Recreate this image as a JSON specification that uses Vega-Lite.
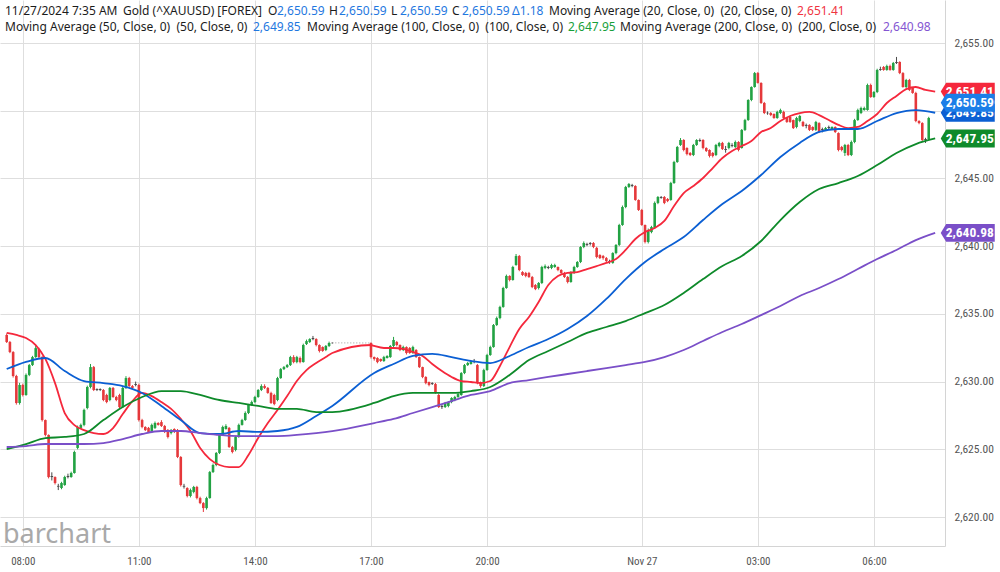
{
"$schema":"https://vega.github.io/schema/vega-lite/v6.json",
"width":945,"height":546,
"autosize":{"type":"none"},
"padding":{"left":0,"top":0,"right":55,"bottom":26},
"background":"white",
"config":{"view":{"stroke":null},"font":"Noto Sans","text":{"align":"left","baseline":"alphabetic","fontSize":12,"font":"Noto Sans","color":"#1c1c1c"},
 "axis":{"gridColor":"#dedede","gridWidth":1,"ticks":false,"domainColor":"#d4d4d4","labelColor":"#555555","labelFont":"Liberation Sans Narrow, Roboto Condensed, Roboto","title":null}},
"datasets":{
"candles":[
{"t":"2024-11-26T07:35","o":2633.44,"h":2633.55,"l":2632.85,"c":2632.92},
{"t":"2024-11-26T07:40","o":2632.92,"h":2633.0,"l":2632.1,"c":2632.18},
{"t":"2024-11-26T07:45","o":2632.18,"h":2632.25,"l":2630.3,"c":2630.41},
{"t":"2024-11-26T07:50","o":2630.41,"h":2630.5,"l":2628.3,"c":2628.42},
{"t":"2024-11-26T07:55","o":2628.42,"h":2629.9,"l":2628.3,"c":2629.75},
{"t":"2024-11-26T08:00","o":2629.75,"h":2629.85,"l":2628.9,"c":2629.01},
{"t":"2024-11-26T08:05","o":2629.01,"h":2630.6,"l":2628.95,"c":2630.49},
{"t":"2024-11-26T08:10","o":2630.49,"h":2631.3,"l":2630.4,"c":2631.22},
{"t":"2024-11-26T08:15","o":2631.22,"h":2631.9,"l":2631.15,"c":2631.81},
{"t":"2024-11-26T08:20","o":2631.81,"h":2632.7,"l":2631.75,"c":2632.47},
{"t":"2024-11-26T08:25","o":2632.40,"h":2632.5,"l":2631.7,"c":2631.81},
{"t":"2024-11-26T08:30","o":2631.81,"h":2631.9,"l":2627.05,"c":2627.16},
{"t":"2024-11-26T08:35","o":2627.16,"h":2627.2,"l":2625.95,"c":2626.06},
{"t":"2024-11-26T08:40","o":2626.06,"h":2626.1,"l":2622.85,"c":2622.95},
{"t":"2024-11-26T08:45","o":2622.95,"h":2623.3,"l":2622.7,"c":2623.03},
{"t":"2024-11-26T08:50","o":2622.95,"h":2623.0,"l":2622.4,"c":2622.51},
{"t":"2024-11-26T08:55","o":2622.30,"h":2622.45,"l":2621.99,"c":2622.24},
{"t":"2024-11-26T09:00","o":2622.14,"h":2622.6,"l":2622.05,"c":2622.51},
{"t":"2024-11-26T09:05","o":2622.36,"h":2623.05,"l":2622.3,"c":2622.95},
{"t":"2024-11-26T09:10","o":2622.95,"h":2623.2,"l":2622.85,"c":2623.03},
{"t":"2024-11-26T09:15","o":2622.95,"h":2623.35,"l":2622.9,"c":2623.25},
{"t":"2024-11-26T09:20","o":2623.25,"h":2624.9,"l":2623.2,"c":2624.80},
{"t":"2024-11-26T09:25","o":2625.10,"h":2626.75,"l":2625.0,"c":2626.65},
{"t":"2024-11-26T09:30","o":2626.58,"h":2626.9,"l":2626.5,"c":2626.80},
{"t":"2024-11-26T09:35","o":2626.80,"h":2628.0,"l":2626.7,"c":2627.91},
{"t":"2024-11-26T09:40","o":2628.05,"h":2629.7,"l":2627.95,"c":2629.60},
{"t":"2024-11-26T09:45","o":2629.60,"h":2631.3,"l":2629.5,"c":2631.07},
{"t":"2024-11-26T09:50","o":2631.07,"h":2631.15,"l":2629.3,"c":2629.38},
{"t":"2024-11-26T09:55","o":2629.38,"h":2629.5,"l":2629.3,"c":2629.45},
{"t":"2024-11-26T10:00","o":2629.45,"h":2629.5,"l":2629.3,"c":2629.38},
{"t":"2024-11-26T10:05","o":2629.38,"h":2629.45,"l":2628.55,"c":2628.64},
{"t":"2024-11-26T10:10","o":2629.01,"h":2629.1,"l":2628.4,"c":2628.49},
{"t":"2024-11-26T10:15","o":2628.64,"h":2629.6,"l":2628.55,"c":2629.53},
{"t":"2024-11-26T10:20","o":2629.53,"h":2629.6,"l":2628.8,"c":2628.86},
{"t":"2024-11-26T10:25","o":2628.86,"h":2628.95,"l":2628.55,"c":2628.64},
{"t":"2024-11-26T10:30","o":2629.01,"h":2629.1,"l":2628.0,"c":2628.12},
{"t":"2024-11-26T10:35","o":2628.12,"h":2629.6,"l":2628.05,"c":2629.53},
{"t":"2024-11-26T10:40","o":2629.53,"h":2630.4,"l":2629.45,"c":2630.26},
{"t":"2024-11-26T10:45","o":2630.26,"h":2630.35,"l":2629.6,"c":2629.67},
{"t":"2024-11-26T10:50","o":2629.67,"h":2629.75,"l":2629.45,"c":2629.53},
{"t":"2024-11-26T10:55","o":2629.82,"h":2630.0,"l":2629.65,"c":2629.75},
{"t":"2024-11-26T11:00","o":2629.75,"h":2629.85,"l":2627.05,"c":2627.16},
{"t":"2024-11-26T11:05","o":2627.16,"h":2627.25,"l":2626.55,"c":2626.65},
{"t":"2024-11-26T11:10","o":2626.65,"h":2626.7,"l":2626.35,"c":2626.42},
{"t":"2024-11-26T11:15","o":2626.58,"h":2626.65,"l":2626.2,"c":2626.28},
{"t":"2024-11-26T11:20","o":2626.28,"h":2626.9,"l":2626.2,"c":2626.80},
{"t":"2024-11-26T11:25","o":2626.58,"h":2627.05,"l":2626.5,"c":2626.94},
{"t":"2024-11-26T11:30","o":2626.94,"h":2627.0,"l":2626.75,"c":2626.80},
{"t":"2024-11-26T11:35","o":2627.01,"h":2627.15,"l":2626.65,"c":2626.72},
{"t":"2024-11-26T11:40","o":2626.72,"h":2626.8,"l":2626.2,"c":2626.28},
{"t":"2024-11-26T11:45","o":2626.42,"h":2626.5,"l":2625.8,"c":2625.91},
{"t":"2024-11-26T11:50","o":2626.20,"h":2626.5,"l":2626.1,"c":2626.42},
{"t":"2024-11-26T11:55","o":2626.50,"h":2626.55,"l":2626.2,"c":2626.28},
{"t":"2024-11-26T12:00","o":2626.42,"h":2626.5,"l":2624.35,"c":2624.43},
{"t":"2024-11-26T12:05","o":2624.43,"h":2624.5,"l":2622.25,"c":2622.36},
{"t":"2024-11-26T12:10","o":2622.30,"h":2622.45,"l":2622.1,"c":2622.24},
{"t":"2024-11-26T12:15","o":2622.14,"h":2622.2,"l":2621.45,"c":2621.55},
{"t":"2024-11-26T12:20","o":2621.55,"h":2622.1,"l":2621.45,"c":2621.99},
{"t":"2024-11-26T12:25","o":2621.85,"h":2622.3,"l":2621.75,"c":2622.22},
{"t":"2024-11-26T12:30","o":2622.22,"h":2622.3,"l":2621.3,"c":2621.40},
{"t":"2024-11-26T12:35","o":2621.40,"h":2621.5,"l":2620.95,"c":2621.03},
{"t":"2024-11-26T12:40","o":2621.03,"h":2621.1,"l":2620.37,"c":2620.66},
{"t":"2024-11-26T12:45","o":2620.66,"h":2621.5,"l":2620.55,"c":2621.40},
{"t":"2024-11-26T12:50","o":2621.40,"h":2623.4,"l":2621.35,"c":2623.32},
{"t":"2024-11-26T12:55","o":2623.32,"h":2623.95,"l":2623.25,"c":2623.84},
{"t":"2024-11-26T13:00","o":2623.84,"h":2624.8,"l":2623.75,"c":2624.73},
{"t":"2024-11-26T13:05","o":2624.73,"h":2626.15,"l":2624.65,"c":2626.06},
{"t":"2024-11-26T13:10","o":2626.06,"h":2626.75,"l":2626.0,"c":2626.65},
{"t":"2024-11-26T13:15","o":2626.50,"h":2626.85,"l":2626.45,"c":2626.72},
{"t":"2024-11-26T13:20","o":2626.58,"h":2626.65,"l":2625.1,"c":2625.17},
{"t":"2024-11-26T13:25","o":2625.17,"h":2625.25,"l":2624.7,"c":2624.80},
{"t":"2024-11-26T13:30","o":2624.95,"h":2626.0,"l":2624.85,"c":2625.91},
{"t":"2024-11-26T13:35","o":2625.91,"h":2626.9,"l":2625.85,"c":2626.80},
{"t":"2024-11-26T13:40","o":2626.80,"h":2627.25,"l":2626.75,"c":2627.16},
{"t":"2024-11-26T13:45","o":2627.16,"h":2627.8,"l":2627.1,"c":2627.68},
{"t":"2024-11-26T13:50","o":2627.68,"h":2628.35,"l":2627.6,"c":2628.27},
{"t":"2024-11-26T13:55","o":2628.27,"h":2628.6,"l":2628.2,"c":2628.49},
{"t":"2024-11-26T14:00","o":2628.49,"h":2628.95,"l":2628.4,"c":2628.86},
{"t":"2024-11-26T14:05","o":2628.86,"h":2629.45,"l":2628.8,"c":2629.38},
{"t":"2024-11-26T14:10","o":2629.38,"h":2629.8,"l":2629.3,"c":2629.67},
{"t":"2024-11-26T14:15","o":2629.67,"h":2629.8,"l":2629.45,"c":2629.53},
{"t":"2024-11-26T14:20","o":2629.53,"h":2629.6,"l":2629.1,"c":2629.16},
{"t":"2024-11-26T14:25","o":2629.16,"h":2629.25,"l":2628.35,"c":2628.42},
{"t":"2024-11-26T14:30","o":2629.01,"h":2629.1,"l":2628.25,"c":2628.34},
{"t":"2024-11-26T14:35","o":2628.64,"h":2630.35,"l":2628.55,"c":2630.26},
{"t":"2024-11-26T14:40","o":2630.26,"h":2631.0,"l":2630.2,"c":2630.92},
{"t":"2024-11-26T14:45","o":2630.92,"h":2631.15,"l":2630.85,"c":2631.07},
{"t":"2024-11-26T14:50","o":2631.07,"h":2631.3,"l":2631.0,"c":2631.22},
{"t":"2024-11-26T14:55","o":2631.22,"h":2631.9,"l":2631.15,"c":2631.81},
{"t":"2024-11-26T15:00","o":2631.81,"h":2631.95,"l":2631.35,"c":2631.44},
{"t":"2024-11-26T15:05","o":2631.44,"h":2631.9,"l":2631.35,"c":2631.81},
{"t":"2024-11-26T15:10","o":2631.74,"h":2631.85,"l":2631.35,"c":2631.44},
{"t":"2024-11-26T15:15","o":2631.44,"h":2632.8,"l":2631.4,"c":2632.70},
{"t":"2024-11-26T15:20","o":2632.77,"h":2633.1,"l":2632.7,"c":2632.99},
{"t":"2024-11-26T15:25","o":2632.92,"h":2633.2,"l":2632.85,"c":2633.14},
{"t":"2024-11-26T15:30","o":2633.14,"h":2633.37,"l":2633.05,"c":2633.22},
{"t":"2024-11-26T15:35","o":2633.14,"h":2633.2,"l":2632.6,"c":2632.70},
{"t":"2024-11-26T15:40","o":2632.70,"h":2632.75,"l":2632.15,"c":2632.26},
{"t":"2024-11-26T15:45","o":2632.55,"h":2632.6,"l":2632.2,"c":2632.26},
{"t":"2024-11-26T15:50","o":2632.33,"h":2632.7,"l":2632.25,"c":2632.63},
{"t":"2024-11-26T15:55","o":2632.63,"h":2632.95,"l":2632.55,"c":2632.85},
{"t":"2024-11-26T16:00","o":2632.84,"h":2632.9,"l":2632.8,"c":2632.86},
{"t":"2024-11-26T17:00","o":2632.85,"h":2632.9,"l":2631.7,"c":2631.81},
{"t":"2024-11-26T17:05","o":2631.81,"h":2631.85,"l":2631.55,"c":2631.67},
{"t":"2024-11-26T17:10","o":2631.74,"h":2631.8,"l":2631.35,"c":2631.44},
{"t":"2024-11-26T17:15","o":2631.67,"h":2631.7,"l":2631.45,"c":2631.52},
{"t":"2024-11-26T17:20","o":2631.52,"h":2631.9,"l":2631.45,"c":2631.81},
{"t":"2024-11-26T17:25","o":2631.74,"h":2631.95,"l":2631.7,"c":2631.89},
{"t":"2024-11-26T17:30","o":2631.81,"h":2632.7,"l":2631.75,"c":2632.63},
{"t":"2024-11-26T17:35","o":2632.63,"h":2633.3,"l":2632.55,"c":2633.07},
{"t":"2024-11-26T17:40","o":2632.92,"h":2633.0,"l":2632.6,"c":2632.70},
{"t":"2024-11-26T17:45","o":2632.70,"h":2632.75,"l":2632.25,"c":2632.33},
{"t":"2024-11-26T17:50","o":2632.33,"h":2632.65,"l":2632.25,"c":2632.55},
{"t":"2024-11-26T17:55","o":2632.55,"h":2632.6,"l":2632.0,"c":2632.11},
{"t":"2024-11-26T18:00","o":2632.48,"h":2632.55,"l":2632.05,"c":2632.11},
{"t":"2024-11-26T18:05","o":2632.11,"h":2632.65,"l":2632.05,"c":2632.55},
{"t":"2024-11-26T18:10","o":2632.33,"h":2632.4,"l":2631.75,"c":2631.81},
{"t":"2024-11-26T18:15","o":2631.81,"h":2631.85,"l":2631.0,"c":2631.07},
{"t":"2024-11-26T18:20","o":2631.07,"h":2631.1,"l":2630.25,"c":2630.34},
{"t":"2024-11-26T18:25","o":2630.34,"h":2630.4,"l":2629.8,"c":2629.89},
{"t":"2024-11-26T18:30","o":2629.97,"h":2630.0,"l":2629.65,"c":2629.75},
{"t":"2024-11-26T18:35","o":2629.89,"h":2629.95,"l":2629.75,"c":2629.82},
{"t":"2024-11-26T18:40","o":2629.82,"h":2629.9,"l":2629.1,"c":2629.16},
{"t":"2024-11-26T18:45","o":2629.01,"h":2629.1,"l":2628.05,"c":2628.12},
{"t":"2024-11-26T18:50","o":2628.12,"h":2628.3,"l":2627.98,"c":2628.20},
{"t":"2024-11-26T18:55","o":2628.12,"h":2628.5,"l":2628.05,"c":2628.42},
{"t":"2024-11-26T19:00","o":2628.20,"h":2628.55,"l":2628.1,"c":2628.49},
{"t":"2024-11-26T19:05","o":2628.49,"h":2628.85,"l":2628.4,"c":2628.79},
{"t":"2024-11-26T19:10","o":2628.64,"h":2628.95,"l":2628.55,"c":2628.86},
{"t":"2024-11-26T19:15","o":2628.86,"h":2629.15,"l":2628.8,"c":2629.08},
{"t":"2024-11-26T19:20","o":2629.01,"h":2630.7,"l":2628.95,"c":2630.63},
{"t":"2024-11-26T19:25","o":2630.63,"h":2631.3,"l":2630.55,"c":2631.22},
{"t":"2024-11-26T19:30","o":2631.22,"h":2631.45,"l":2631.15,"c":2631.37},
{"t":"2024-11-26T19:35","o":2631.30,"h":2631.5,"l":2631.25,"c":2631.44},
{"t":"2024-11-26T19:40","o":2631.44,"h":2631.67,"l":2631.35,"c":2631.52},
{"t":"2024-11-26T19:45","o":2631.22,"h":2631.3,"l":2629.8,"c":2629.89},
{"t":"2024-11-26T19:50","o":2629.97,"h":2630.0,"l":2629.55,"c":2629.67},
{"t":"2024-11-26T19:55","o":2629.67,"h":2630.95,"l":2629.6,"c":2630.85},
{"t":"2024-11-26T20:00","o":2630.85,"h":2632.05,"l":2630.8,"c":2631.96},
{"t":"2024-11-26T20:05","o":2631.96,"h":2632.65,"l":2631.9,"c":2632.55},
{"t":"2024-11-26T20:10","o":2632.55,"h":2634.25,"l":2632.5,"c":2634.18},
{"t":"2024-11-26T20:15","o":2634.18,"h":2634.8,"l":2634.1,"c":2634.69},
{"t":"2024-11-26T20:20","o":2634.69,"h":2635.6,"l":2634.6,"c":2635.51},
{"t":"2024-11-26T20:25","o":2635.51,"h":2637.0,"l":2635.45,"c":2636.91},
{"t":"2024-11-26T20:30","o":2636.91,"h":2637.9,"l":2636.85,"c":2637.80},
{"t":"2024-11-26T20:35","o":2637.80,"h":2637.85,"l":2637.4,"c":2637.50},
{"t":"2024-11-26T20:40","o":2637.50,"h":2638.55,"l":2637.45,"c":2638.46},
{"t":"2024-11-26T20:45","o":2638.61,"h":2639.42,"l":2638.55,"c":2639.27},
{"t":"2024-11-26T20:50","o":2639.27,"h":2639.35,"l":2638.15,"c":2638.24},
{"t":"2024-11-26T20:55","o":2638.09,"h":2638.15,"l":2637.8,"c":2637.87},
{"t":"2024-11-26T21:00","o":2638.02,"h":2638.1,"l":2637.7,"c":2637.80},
{"t":"2024-11-26T21:05","o":2638.02,"h":2638.1,"l":2637.65,"c":2637.72},
{"t":"2024-11-26T21:10","o":2637.72,"h":2637.8,"l":2636.9,"c":2636.98},
{"t":"2024-11-26T21:15","o":2637.13,"h":2637.2,"l":2636.75,"c":2636.83},
{"t":"2024-11-26T21:20","o":2636.91,"h":2637.35,"l":2636.8,"c":2637.28},
{"t":"2024-11-26T21:25","o":2637.28,"h":2638.55,"l":2637.2,"c":2638.46},
{"t":"2024-11-26T21:30","o":2638.39,"h":2638.65,"l":2638.3,"c":2638.53},
{"t":"2024-11-26T21:35","o":2638.46,"h":2638.55,"l":2638.3,"c":2638.39},
{"t":"2024-11-26T21:40","o":2638.39,"h":2638.7,"l":2638.3,"c":2638.61},
{"t":"2024-11-26T21:45","o":2638.46,"h":2638.7,"l":2638.4,"c":2638.61},
{"t":"2024-11-26T21:50","o":2638.46,"h":2638.5,"l":2638.15,"c":2638.24},
{"t":"2024-11-26T21:55","o":2638.24,"h":2638.3,"l":2637.95,"c":2638.02},
{"t":"2024-11-26T22:00","o":2638.02,"h":2638.1,"l":2637.65,"c":2637.72},
{"t":"2024-11-26T22:05","o":2637.72,"h":2637.8,"l":2637.25,"c":2637.35},
{"t":"2024-11-26T22:10","o":2637.35,"h":2638.15,"l":2637.3,"c":2638.09},
{"t":"2024-11-26T22:15","o":2638.02,"h":2638.55,"l":2637.95,"c":2638.46},
{"t":"2024-11-26T22:20","o":2638.46,"h":2638.9,"l":2638.4,"c":2638.83},
{"t":"2024-11-26T22:25","o":2638.83,"h":2640.0,"l":2638.75,"c":2639.94},
{"t":"2024-11-26T22:30","o":2639.94,"h":2640.35,"l":2639.85,"c":2640.23},
{"t":"2024-11-26T22:35","o":2640.16,"h":2640.25,"l":2640.0,"c":2640.09},
{"t":"2024-11-26T22:40","o":2640.16,"h":2640.3,"l":2640.05,"c":2640.23},
{"t":"2024-11-26T22:45","o":2640.23,"h":2640.3,"l":2639.85,"c":2639.94},
{"t":"2024-11-26T22:50","o":2639.87,"h":2639.95,"l":2639.1,"c":2639.20},
{"t":"2024-11-26T22:55","o":2639.35,"h":2639.4,"l":2639.05,"c":2639.12},
{"t":"2024-11-26T23:00","o":2639.27,"h":2639.35,"l":2639.0,"c":2639.12},
{"t":"2024-11-26T23:05","o":2639.12,"h":2639.2,"l":2638.8,"c":2638.90},
{"t":"2024-11-26T23:10","o":2638.90,"h":2639.0,"l":2638.7,"c":2638.83},
{"t":"2024-11-26T23:15","o":2638.76,"h":2639.55,"l":2638.7,"c":2639.49},
{"t":"2024-11-26T23:20","o":2639.49,"h":2640.15,"l":2639.4,"c":2640.09},
{"t":"2024-11-26T23:25","o":2640.09,"h":2641.65,"l":2640.0,"c":2641.56},
{"t":"2024-11-26T23:30","o":2641.56,"h":2643.0,"l":2641.5,"c":2642.89},
{"t":"2024-11-26T23:35","o":2642.89,"h":2644.45,"l":2642.8,"c":2644.37},
{"t":"2024-11-26T23:40","o":2644.37,"h":2644.66,"l":2644.3,"c":2644.59},
{"t":"2024-11-26T23:45","o":2644.44,"h":2644.6,"l":2644.35,"c":2644.51},
{"t":"2024-11-26T23:50","o":2644.44,"h":2644.5,"l":2643.35,"c":2643.41},
{"t":"2024-11-26T23:55","o":2643.41,"h":2643.45,"l":2642.6,"c":2642.67},
{"t":"2024-11-27T00:00","o":2642.67,"h":2642.75,"l":2641.5,"c":2641.56},
{"t":"2024-11-27T00:05","o":2641.56,"h":2641.6,"l":2640.2,"c":2640.31},
{"t":"2024-11-27T00:10","o":2640.31,"h":2641.3,"l":2640.2,"c":2641.19},
{"t":"2024-11-27T00:15","o":2641.04,"h":2641.5,"l":2640.95,"c":2641.41},
{"t":"2024-11-27T00:20","o":2641.34,"h":2643.3,"l":2641.3,"c":2643.19},
{"t":"2024-11-27T00:25","o":2643.19,"h":2643.7,"l":2643.1,"c":2643.63},
{"t":"2024-11-27T00:30","o":2643.63,"h":2643.7,"l":2643.5,"c":2643.56},
{"t":"2024-11-27T00:35","o":2643.63,"h":2643.7,"l":2643.1,"c":2643.19},
{"t":"2024-11-27T00:40","o":2643.48,"h":2643.55,"l":2643.25,"c":2643.33},
{"t":"2024-11-27T00:45","o":2643.41,"h":2644.75,"l":2643.35,"c":2644.66},
{"t":"2024-11-27T00:50","o":2644.66,"h":2646.3,"l":2644.6,"c":2646.21},
{"t":"2024-11-27T00:55","o":2646.21,"h":2647.4,"l":2646.15,"c":2647.32},
{"t":"2024-11-27T01:00","o":2647.47,"h":2647.98,"l":2647.4,"c":2647.84},
{"t":"2024-11-27T01:05","o":2647.84,"h":2647.9,"l":2647.0,"c":2647.10},
{"t":"2024-11-27T01:10","o":2647.25,"h":2647.3,"l":2646.7,"c":2646.80},
{"t":"2024-11-27T01:15","o":2646.88,"h":2646.95,"l":2646.65,"c":2646.73},
{"t":"2024-11-27T01:20","o":2646.73,"h":2647.55,"l":2646.65,"c":2647.47},
{"t":"2024-11-27T01:25","o":2647.47,"h":2647.9,"l":2647.4,"c":2647.84},
{"t":"2024-11-27T01:30","o":2647.84,"h":2647.95,"l":2647.7,"c":2647.76},
{"t":"2024-11-27T01:35","o":2647.84,"h":2647.9,"l":2647.15,"c":2647.25},
{"t":"2024-11-27T01:40","o":2647.25,"h":2647.3,"l":2646.95,"c":2647.03},
{"t":"2024-11-27T01:45","o":2647.10,"h":2647.15,"l":2646.55,"c":2646.66},
{"t":"2024-11-27T01:50","o":2646.88,"h":2646.95,"l":2646.55,"c":2646.66},
{"t":"2024-11-27T01:55","o":2646.73,"h":2647.55,"l":2646.65,"c":2647.47},
{"t":"2024-11-27T02:00","o":2647.40,"h":2647.7,"l":2647.3,"c":2647.62},
{"t":"2024-11-27T02:05","o":2647.62,"h":2647.7,"l":2647.1,"c":2647.17},
{"t":"2024-11-27T02:10","o":2647.17,"h":2647.4,"l":2646.9,"c":2647.10},
{"t":"2024-11-27T02:15","o":2647.25,"h":2647.7,"l":2647.15,"c":2647.62},
{"t":"2024-11-27T02:20","o":2647.47,"h":2647.6,"l":2647.3,"c":2647.40},
{"t":"2024-11-27T02:25","o":2647.32,"h":2647.8,"l":2647.25,"c":2647.69},
{"t":"2024-11-27T02:30","o":2647.69,"h":2647.75,"l":2647.0,"c":2647.10},
{"t":"2024-11-27T02:35","o":2647.25,"h":2648.65,"l":2647.2,"c":2648.58},
{"t":"2024-11-27T02:40","o":2648.58,"h":2649.4,"l":2648.5,"c":2649.31},
{"t":"2024-11-27T02:45","o":2649.31,"h":2650.85,"l":2649.25,"c":2650.79},
{"t":"2024-11-27T02:50","o":2650.79,"h":2651.8,"l":2650.7,"c":2651.75},
{"t":"2024-11-27T02:55","o":2651.75,"h":2652.86,"l":2651.7,"c":2652.78},
{"t":"2024-11-27T03:00","o":2652.78,"h":2652.86,"l":2652.0,"c":2652.05},
{"t":"2024-11-27T03:05","o":2652.05,"h":2652.1,"l":2650.5,"c":2650.57},
{"t":"2024-11-27T03:10","o":2650.57,"h":2650.65,"l":2649.75,"c":2649.83},
{"t":"2024-11-27T03:15","o":2649.85,"h":2649.95,"l":2649.7,"c":2649.81},
{"t":"2024-11-27T03:20","o":2649.83,"h":2649.9,"l":2649.6,"c":2649.68},
{"t":"2024-11-27T03:25","o":2649.76,"h":2649.8,"l":2649.4,"c":2649.46},
{"t":"2024-11-27T03:30","o":2649.46,"h":2650.0,"l":2649.4,"c":2649.91},
{"t":"2024-11-27T03:35","o":2649.83,"h":2650.15,"l":2649.75,"c":2650.05},
{"t":"2024-11-27T03:40","o":2649.91,"h":2650.0,"l":2649.4,"c":2649.46},
{"t":"2024-11-27T03:45","o":2649.46,"h":2649.5,"l":2649.1,"c":2649.17},
{"t":"2024-11-27T03:50","o":2649.54,"h":2649.6,"l":2649.1,"c":2649.17},
{"t":"2024-11-27T03:55","o":2649.31,"h":2649.35,"l":2648.65,"c":2648.72},
{"t":"2024-11-27T04:00","o":2648.80,"h":2649.55,"l":2648.7,"c":2649.46},
{"t":"2024-11-27T04:05","o":2649.24,"h":2649.7,"l":2649.15,"c":2649.61},
{"t":"2024-11-27T04:10","o":2649.17,"h":2649.25,"l":2648.8,"c":2648.87},
{"t":"2024-11-27T04:15","o":2648.95,"h":2649.05,"l":2648.7,"c":2648.88},
{"t":"2024-11-27T04:20","o":2648.95,"h":2649.0,"l":2648.5,"c":2648.58},
{"t":"2024-11-27T04:25","o":2648.80,"h":2648.85,"l":2648.5,"c":2648.58},
{"t":"2024-11-27T04:30","o":2648.58,"h":2649.25,"l":2648.5,"c":2649.17},
{"t":"2024-11-27T04:35","o":2649.09,"h":2649.15,"l":2648.35,"c":2648.43},
{"t":"2024-11-27T04:40","o":2648.65,"h":2648.75,"l":2648.4,"c":2648.58},
{"t":"2024-11-27T04:45","o":2648.58,"h":2648.8,"l":2648.5,"c":2648.72},
{"t":"2024-11-27T04:50","o":2648.72,"h":2648.9,"l":2648.65,"c":2648.80},
{"t":"2024-11-27T04:55","o":2648.65,"h":2648.85,"l":2648.6,"c":2648.80},
{"t":"2024-11-27T05:00","o":2648.80,"h":2648.85,"l":2648.35,"c":2648.43},
{"t":"2024-11-27T05:05","o":2648.35,"h":2648.4,"l":2647.0,"c":2647.10},
{"t":"2024-11-27T05:10","o":2647.32,"h":2647.4,"l":2647.0,"c":2647.10},
{"t":"2024-11-27T05:15","o":2646.88,"h":2647.55,"l":2646.66,"c":2647.47},
{"t":"2024-11-27T05:20","o":2647.47,"h":2647.55,"l":2646.65,"c":2646.73},
{"t":"2024-11-27T05:25","o":2646.73,"h":2647.8,"l":2646.65,"c":2647.69},
{"t":"2024-11-27T05:30","o":2647.69,"h":2649.4,"l":2647.6,"c":2649.31},
{"t":"2024-11-27T05:35","o":2649.31,"h":2650.15,"l":2649.25,"c":2650.05},
{"t":"2024-11-27T05:40","o":2649.83,"h":2650.3,"l":2649.75,"c":2650.20},
{"t":"2024-11-27T05:45","o":2650.05,"h":2650.3,"l":2650.0,"c":2650.20},
{"t":"2024-11-27T05:50","o":2650.05,"h":2652.0,"l":2650.0,"c":2651.90},
{"t":"2024-11-27T05:55","o":2651.90,"h":2652.0,"l":2650.95,"c":2651.01},
{"t":"2024-11-27T06:00","o":2651.01,"h":2651.45,"l":2650.95,"c":2651.38},
{"t":"2024-11-27T06:05","o":2651.38,"h":2653.1,"l":2651.3,"c":2653.01},
{"t":"2024-11-27T06:10","o":2653.01,"h":2653.25,"l":2652.95,"c":2653.08},
{"t":"2024-11-27T06:15","o":2653.23,"h":2653.3,"l":2652.95,"c":2653.01},
{"t":"2024-11-27T06:20","o":2653.01,"h":2653.4,"l":2652.95,"c":2653.30},
{"t":"2024-11-27T06:25","o":2653.30,"h":2653.4,"l":2652.95,"c":2653.01},
{"t":"2024-11-27T06:30","o":2653.01,"h":2653.6,"l":2652.95,"c":2653.52},
{"t":"2024-11-27T06:35","o":2653.52,"h":2653.97,"l":2653.45,"c":2653.60},
{"t":"2024-11-27T06:40","o":2653.60,"h":2653.65,"l":2652.7,"c":2652.78},
{"t":"2024-11-27T06:45","o":2652.78,"h":2652.85,"l":2651.7,"c":2651.75},
{"t":"2024-11-27T06:50","o":2651.75,"h":2652.35,"l":2651.65,"c":2652.27},
{"t":"2024-11-27T06:55","o":2652.27,"h":2652.35,"l":2651.45,"c":2651.53},
{"t":"2024-11-27T07:00","o":2651.68,"h":2651.75,"l":2651.25,"c":2651.31},
{"t":"2024-11-27T07:05","o":2651.31,"h":2651.4,"l":2649.15,"c":2649.24},
{"t":"2024-11-27T07:10","o":2649.24,"h":2649.3,"l":2649.0,"c":2649.09},
{"t":"2024-11-27T07:15","o":2649.09,"h":2649.15,"l":2647.75,"c":2647.84},
{"t":"2024-11-27T07:20","o":2647.84,"h":2648.0,"l":2647.62,"c":2647.91},
{"t":"2024-11-27T07:25","o":2647.91,"h":2649.55,"l":2647.85,"c":2649.46},
{"t":"2024-11-27T07:35","o":2650.59,"h":2650.59,"l":2650.59,"c":2650.59}
],
"ma":[
{"t":"2024-11-26T07:35","s":"MA 20","v":2633.59},{"t":"2024-11-26T07:50","s":"MA 20","v":2633.44},{"t":"2024-11-26T08:05","s":"MA 20","v":2633.22},{"t":"2024-11-26T08:20","s":"MA 20","v":2632.70},{"t":"2024-11-26T08:35","s":"MA 20","v":2631.67},{"t":"2024-11-26T08:50","s":"MA 20","v":2629.89},{"t":"2024-11-26T09:05","s":"MA 20","v":2627.68},{"t":"2024-11-26T09:20","s":"MA 20","v":2626.79},{"t":"2024-11-26T09:35","s":"MA 20","v":2626.42},{"t":"2024-11-26T09:50","s":"MA 20","v":2626.20},{"t":"2024-11-26T10:05","s":"MA 20","v":2626.13},{"t":"2024-11-26T10:20","s":"MA 20","v":2626.57},{"t":"2024-11-26T10:35","s":"MA 20","v":2627.60},{"t":"2024-11-26T10:50","s":"MA 20","v":2628.56},{"t":"2024-11-26T11:05","s":"MA 20","v":2629.16},{"t":"2024-11-26T11:20","s":"MA 20","v":2628.93},{"t":"2024-11-26T11:35","s":"MA 20","v":2628.49},{"t":"2024-11-26T11:50","s":"MA 20","v":2627.98},{"t":"2024-11-26T12:05","s":"MA 20","v":2627.24},{"t":"2024-11-26T12:20","s":"MA 20","v":2626.35},{"t":"2024-11-26T12:35","s":"MA 20","v":2625.10},{"t":"2024-11-26T12:50","s":"MA 20","v":2624.28},{"t":"2024-11-26T13:05","s":"MA 20","v":2623.84},{"t":"2024-11-26T13:20","s":"MA 20","v":2623.69},{"t":"2024-11-26T13:35","s":"MA 20","v":2623.69},{"t":"2024-11-26T13:50","s":"MA 20","v":2624.58},{"t":"2024-11-26T14:05","s":"MA 20","v":2625.83},{"t":"2024-11-26T14:20","s":"MA 20","v":2626.94},{"t":"2024-11-26T14:35","s":"MA 20","v":2627.90},{"t":"2024-11-26T14:50","s":"MA 20","v":2628.93},{"t":"2024-11-26T15:05","s":"MA 20","v":2630.04},{"t":"2024-11-26T15:20","s":"MA 20","v":2630.85},{"t":"2024-11-26T15:35","s":"MA 20","v":2631.37},{"t":"2024-11-26T15:50","s":"MA 20","v":2631.81},{"t":"2024-11-26T16:00","s":"MA 20","v":2632.11},{"t":"2024-11-26T17:00","s":"MA 20","v":2632.70},{"t":"2024-11-26T17:05","s":"MA 20","v":2632.63},{"t":"2024-11-26T17:20","s":"MA 20","v":2632.48},{"t":"2024-11-26T17:35","s":"MA 20","v":2632.48},{"t":"2024-11-26T17:50","s":"MA 20","v":2632.41},{"t":"2024-11-26T18:05","s":"MA 20","v":2632.18},{"t":"2024-11-26T18:20","s":"MA 20","v":2631.89},{"t":"2024-11-26T18:35","s":"MA 20","v":2631.30},{"t":"2024-11-26T18:50","s":"MA 20","v":2630.78},{"t":"2024-11-26T19:05","s":"MA 20","v":2630.34},{"t":"2024-11-26T19:20","s":"MA 20","v":2630.04},{"t":"2024-11-26T19:35","s":"MA 20","v":2629.97},{"t":"2024-11-26T19:50","s":"MA 20","v":2629.89},{"t":"2024-11-26T20:05","s":"MA 20","v":2630.04},{"t":"2024-11-26T20:20","s":"MA 20","v":2631.15},{"t":"2024-11-26T20:35","s":"MA 20","v":2632.55},{"t":"2024-11-26T20:50","s":"MA 20","v":2633.88},{"t":"2024-11-26T21:05","s":"MA 20","v":2634.77},{"t":"2024-11-26T21:20","s":"MA 20","v":2635.88},{"t":"2024-11-26T21:35","s":"MA 20","v":2637.13},{"t":"2024-11-26T21:50","s":"MA 20","v":2637.80},{"t":"2024-11-26T22:05","s":"MA 20","v":2638.02},{"t":"2024-11-26T22:20","s":"MA 20","v":2638.09},{"t":"2024-11-26T22:35","s":"MA 20","v":2638.31},{"t":"2024-11-26T22:50","s":"MA 20","v":2638.53},{"t":"2024-11-26T23:05","s":"MA 20","v":2638.76},{"t":"2024-11-26T23:20","s":"MA 20","v":2639.05},{"t":"2024-11-26T23:35","s":"MA 20","v":2639.72},{"t":"2024-11-26T23:50","s":"MA 20","v":2640.53},{"t":"2024-11-27T00:05","s":"MA 20","v":2641.04},{"t":"2024-11-27T00:20","s":"MA 20","v":2641.34},{"t":"2024-11-27T00:35","s":"MA 20","v":2641.86},{"t":"2024-11-27T00:50","s":"MA 20","v":2642.96},{"t":"2024-11-27T01:05","s":"MA 20","v":2643.92},{"t":"2024-11-27T01:20","s":"MA 20","v":2644.44},{"t":"2024-11-27T01:35","s":"MA 20","v":2645.03},{"t":"2024-11-27T01:50","s":"MA 20","v":2645.77},{"t":"2024-11-27T02:05","s":"MA 20","v":2646.51},{"t":"2024-11-27T02:20","s":"MA 20","v":2647.03},{"t":"2024-11-27T02:35","s":"MA 20","v":2647.39},{"t":"2024-11-27T02:50","s":"MA 20","v":2647.76},{"t":"2024-11-27T03:05","s":"MA 20","v":2648.43},{"t":"2024-11-27T03:20","s":"MA 20","v":2648.72},{"t":"2024-11-27T03:35","s":"MA 20","v":2649.24},{"t":"2024-11-27T03:50","s":"MA 20","v":2649.61},{"t":"2024-11-27T04:05","s":"MA 20","v":2649.83},{"t":"2024-11-27T04:20","s":"MA 20","v":2649.91},{"t":"2024-11-27T04:35","s":"MA 20","v":2649.68},{"t":"2024-11-27T04:50","s":"MA 20","v":2649.31},{"t":"2024-11-27T05:05","s":"MA 20","v":2648.95},{"t":"2024-11-27T05:20","s":"MA 20","v":2648.72},{"t":"2024-11-27T05:35","s":"MA 20","v":2648.80},{"t":"2024-11-27T05:50","s":"MA 20","v":2649.24},{"t":"2024-11-27T06:05","s":"MA 20","v":2649.76},{"t":"2024-11-27T06:20","s":"MA 20","v":2650.57},{"t":"2024-11-27T06:35","s":"MA 20","v":2651.09},{"t":"2024-11-27T06:50","s":"MA 20","v":2651.60},{"t":"2024-11-27T07:05","s":"MA 20","v":2651.75},{"t":"2024-11-27T07:20","s":"MA 20","v":2651.53},{"t":"2024-11-27T07:35","s":"MA 20","v":2651.41},
{"t":"2024-11-26T07:35","s":"MA 50","v":2630.93},{"t":"2024-11-26T08:05","s":"MA 50","v":2631.45},{"t":"2024-11-26T08:35","s":"MA 50","v":2631.74},{"t":"2024-11-26T09:05","s":"MA 50","v":2630.78},{"t":"2024-11-26T09:35","s":"MA 50","v":2630.04},{"t":"2024-11-26T10:05","s":"MA 50","v":2629.89},{"t":"2024-11-26T10:35","s":"MA 50","v":2629.67},{"t":"2024-11-26T11:05","s":"MA 50","v":2629.16},{"t":"2024-11-26T11:35","s":"MA 50","v":2628.20},{"t":"2024-11-26T12:05","s":"MA 50","v":2627.16},{"t":"2024-11-26T12:35","s":"MA 50","v":2626.20},{"t":"2024-11-26T13:05","s":"MA 50","v":2626.13},{"t":"2024-11-26T13:35","s":"MA 50","v":2626.35},{"t":"2024-11-26T14:05","s":"MA 50","v":2626.28},{"t":"2024-11-26T14:35","s":"MA 50","v":2626.35},{"t":"2024-11-26T15:05","s":"MA 50","v":2626.65},{"t":"2024-11-26T15:35","s":"MA 50","v":2627.46},{"t":"2024-11-26T16:00","s":"MA 50","v":2628.20},{"t":"2024-11-26T17:05","s":"MA 50","v":2630.63},{"t":"2024-11-26T17:35","s":"MA 50","v":2631.30},{"t":"2024-11-26T18:05","s":"MA 50","v":2631.89},{"t":"2024-11-26T18:35","s":"MA 50","v":2632.04},{"t":"2024-11-26T19:05","s":"MA 50","v":2631.81},{"t":"2024-11-26T19:35","s":"MA 50","v":2631.52},{"t":"2024-11-26T20:05","s":"MA 50","v":2631.37},{"t":"2024-11-26T20:35","s":"MA 50","v":2631.89},{"t":"2024-11-26T21:05","s":"MA 50","v":2632.55},{"t":"2024-11-26T21:35","s":"MA 50","v":2633.14},{"t":"2024-11-26T22:05","s":"MA 50","v":2633.88},{"t":"2024-11-26T22:35","s":"MA 50","v":2634.84},{"t":"2024-11-26T23:05","s":"MA 50","v":2636.10},{"t":"2024-11-26T23:35","s":"MA 50","v":2637.57},{"t":"2024-11-27T00:05","s":"MA 50","v":2638.83},{"t":"2024-11-27T00:35","s":"MA 50","v":2639.79},{"t":"2024-11-27T01:05","s":"MA 50","v":2640.67},{"t":"2024-11-27T01:35","s":"MA 50","v":2641.93},{"t":"2024-11-27T02:05","s":"MA 50","v":2643.11},{"t":"2024-11-27T02:35","s":"MA 50","v":2644.07},{"t":"2024-11-27T03:05","s":"MA 50","v":2645.25},{"t":"2024-11-27T03:35","s":"MA 50","v":2646.58},{"t":"2024-11-27T04:05","s":"MA 50","v":2647.62},{"t":"2024-11-27T04:35","s":"MA 50","v":2648.43},{"t":"2024-11-27T05:05","s":"MA 50","v":2648.65},{"t":"2024-11-27T05:35","s":"MA 50","v":2648.65},{"t":"2024-11-27T06:05","s":"MA 50","v":2649.24},{"t":"2024-11-27T06:35","s":"MA 50","v":2649.83},{"t":"2024-11-27T07:05","s":"MA 50","v":2650.05},{"t":"2024-11-27T07:35","s":"MA 50","v":2649.85},
{"t":"2024-11-26T07:35","s":"MA 100","v":2625.02},{"t":"2024-11-26T08:05","s":"MA 100","v":2625.39},{"t":"2024-11-26T08:35","s":"MA 100","v":2625.83},{"t":"2024-11-26T09:05","s":"MA 100","v":2625.91},{"t":"2024-11-26T09:35","s":"MA 100","v":2626.13},{"t":"2024-11-26T10:05","s":"MA 100","v":2627.16},{"t":"2024-11-26T10:35","s":"MA 100","v":2628.12},{"t":"2024-11-26T11:05","s":"MA 100","v":2628.86},{"t":"2024-11-26T11:35","s":"MA 100","v":2629.30},{"t":"2024-11-26T12:05","s":"MA 100","v":2629.30},{"t":"2024-11-26T12:35","s":"MA 100","v":2629.01},{"t":"2024-11-26T13:05","s":"MA 100","v":2628.64},{"t":"2024-11-26T13:35","s":"MA 100","v":2628.42},{"t":"2024-11-26T14:05","s":"MA 100","v":2628.20},{"t":"2024-11-26T14:35","s":"MA 100","v":2627.98},{"t":"2024-11-26T15:05","s":"MA 100","v":2627.98},{"t":"2024-11-26T15:35","s":"MA 100","v":2627.75},{"t":"2024-11-26T16:00","s":"MA 100","v":2627.75},{"t":"2024-11-26T17:05","s":"MA 100","v":2628.42},{"t":"2024-11-26T17:35","s":"MA 100","v":2628.93},{"t":"2024-11-26T18:05","s":"MA 100","v":2629.16},{"t":"2024-11-26T18:35","s":"MA 100","v":2629.16},{"t":"2024-11-26T19:05","s":"MA 100","v":2629.16},{"t":"2024-11-26T19:35","s":"MA 100","v":2629.30},{"t":"2024-11-26T20:05","s":"MA 100","v":2629.60},{"t":"2024-11-26T20:35","s":"MA 100","v":2630.49},{"t":"2024-11-26T21:05","s":"MA 100","v":2631.59},{"t":"2024-11-26T21:35","s":"MA 100","v":2632.26},{"t":"2024-11-26T22:05","s":"MA 100","v":2632.92},{"t":"2024-11-26T22:35","s":"MA 100","v":2633.59},{"t":"2024-11-26T23:05","s":"MA 100","v":2634.03},{"t":"2024-11-26T23:35","s":"MA 100","v":2634.47},{"t":"2024-11-27T00:05","s":"MA 100","v":2635.06},{"t":"2024-11-27T00:35","s":"MA 100","v":2635.65},{"t":"2024-11-27T01:05","s":"MA 100","v":2636.54},{"t":"2024-11-27T01:35","s":"MA 100","v":2637.57},{"t":"2024-11-27T02:05","s":"MA 100","v":2638.53},{"t":"2024-11-27T02:35","s":"MA 100","v":2639.27},{"t":"2024-11-27T03:05","s":"MA 100","v":2640.38},{"t":"2024-11-27T03:35","s":"MA 100","v":2641.93},{"t":"2024-11-27T04:05","s":"MA 100","v":2643.26},{"t":"2024-11-27T04:35","s":"MA 100","v":2644.22},{"t":"2024-11-27T05:05","s":"MA 100","v":2644.66},{"t":"2024-11-27T05:35","s":"MA 100","v":2645.18},{"t":"2024-11-27T06:05","s":"MA 100","v":2645.99},{"t":"2024-11-27T06:35","s":"MA 100","v":2646.88},{"t":"2024-11-27T07:05","s":"MA 100","v":2647.54},{"t":"2024-11-27T07:35","s":"MA 100","v":2647.95},
{"t":"2024-11-26T07:35","s":"MA 200","v":2625.17},{"t":"2024-11-26T08:05","s":"MA 200","v":2625.24},{"t":"2024-11-26T08:35","s":"MA 200","v":2625.39},{"t":"2024-11-26T09:05","s":"MA 200","v":2625.39},{"t":"2024-11-26T09:35","s":"MA 200","v":2625.39},{"t":"2024-11-26T10:05","s":"MA 200","v":2625.46},{"t":"2024-11-26T10:35","s":"MA 200","v":2625.76},{"t":"2024-11-26T11:05","s":"MA 200","v":2626.13},{"t":"2024-11-26T11:35","s":"MA 200","v":2626.35},{"t":"2024-11-26T12:05","s":"MA 200","v":2626.35},{"t":"2024-11-26T12:35","s":"MA 200","v":2626.20},{"t":"2024-11-26T13:05","s":"MA 200","v":2626.06},{"t":"2024-11-26T13:35","s":"MA 200","v":2625.98},{"t":"2024-11-26T14:05","s":"MA 200","v":2625.98},{"t":"2024-11-26T14:35","s":"MA 200","v":2625.98},{"t":"2024-11-26T15:05","s":"MA 200","v":2626.06},{"t":"2024-11-26T15:35","s":"MA 200","v":2626.20},{"t":"2024-11-26T16:00","s":"MA 200","v":2626.35},{"t":"2024-11-26T17:05","s":"MA 200","v":2626.94},{"t":"2024-11-26T17:35","s":"MA 200","v":2627.24},{"t":"2024-11-26T18:05","s":"MA 200","v":2627.68},{"t":"2024-11-26T18:35","s":"MA 200","v":2628.12},{"t":"2024-11-26T19:05","s":"MA 200","v":2628.56},{"t":"2024-11-26T19:35","s":"MA 200","v":2629.01},{"t":"2024-11-26T20:05","s":"MA 200","v":2629.30},{"t":"2024-11-26T20:35","s":"MA 200","v":2629.89},{"t":"2024-11-26T21:05","s":"MA 200","v":2630.11},{"t":"2024-11-26T21:35","s":"MA 200","v":2630.34},{"t":"2024-11-26T22:05","s":"MA 200","v":2630.56},{"t":"2024-11-26T22:35","s":"MA 200","v":2630.78},{"t":"2024-11-26T23:05","s":"MA 200","v":2631.00},{"t":"2024-11-26T23:35","s":"MA 200","v":2631.22},{"t":"2024-11-27T00:05","s":"MA 200","v":2631.45},{"t":"2024-11-27T00:35","s":"MA 200","v":2631.81},{"t":"2024-11-27T01:05","s":"MA 200","v":2632.33},{"t":"2024-11-27T01:35","s":"MA 200","v":2633.00},{"t":"2024-11-27T02:05","s":"MA 200","v":2633.66},{"t":"2024-11-27T02:35","s":"MA 200","v":2634.25},{"t":"2024-11-27T03:05","s":"MA 200","v":2634.91},{"t":"2024-11-27T03:35","s":"MA 200","v":2635.58},{"t":"2024-11-27T04:05","s":"MA 200","v":2636.32},{"t":"2024-11-27T04:35","s":"MA 200","v":2636.91},{"t":"2024-11-27T05:05","s":"MA 200","v":2637.57},{"t":"2024-11-27T05:35","s":"MA 200","v":2638.31},{"t":"2024-11-27T06:05","s":"MA 200","v":2639.05},{"t":"2024-11-27T06:35","s":"MA 200","v":2639.72},{"t":"2024-11-27T07:05","s":"MA 200","v":2640.45},{"t":"2024-11-27T07:35","s":"MA 200","v":2640.98}
],
"gap":[{"t":"2024-11-26T16:00","v":2632.86},{"t":"2024-11-26T17:00","v":2632.85}],
"tags":[
{"s":"MA 200","v":2640.98,"label":"2,640.98"},
{"s":"MA 100","v":2647.95,"label":"2,647.95"},
{"s":"MA 50","v":2649.85,"label":"2,649.85"},
{"s":"MA 20","v":2651.41,"label":"2,651.41"},
{"s":"Last","v":2650.59,"label":"2,650.59"}
]
},
"layer":[
{"data":{"name":"candles"},
 "mark":{"type":"rule","strokeWidth":1},
 "encoding":{
  "x":{"field":"t","type":"temporal","title":null,
   "scale":{"domain":[{"year":2024,"month":11,"date":26,"hours":7,"minutes":32,"seconds":23},{"year":2024,"month":11,"date":27,"hours":7,"minutes":42,"seconds":29}],"nice":false},
   "axis":{"values":[{"year":2024,"month":11,"date":26,"hours":8},{"year":2024,"month":11,"date":26,"hours":11},{"year":2024,"month":11,"date":26,"hours":14},{"year":2024,"month":11,"date":26,"hours":17},{"year":2024,"month":11,"date":26,"hours":20},{"year":2024,"month":11,"date":27,"hours":0},{"year":2024,"month":11,"date":27,"hours":3},{"year":2024,"month":11,"date":27,"hours":6}],
    "labelExpr":"hours(datum.value) == 0 ? timeFormat(datum.value, '%b %d') : timeFormat(datum.value, '%H:%M')",
    "grid":true,"domain":true,"labelFontSize":11,"labelPadding":9,"labelFlush":false}},
  "y":{"field":"l","type":"quantitative","title":null,
   "scale":{"domain":[2617.86,2658.175],"nice":false,"zero":false},
   "axis":{"orient":"right","values":[2620,2625,2630,2635,2640,2645,2650,2655],"format":",.2f",
    "grid":true,"domain":true,"labelFontSize":11.5,"labelPadding":9}},
  "y2":{"field":"h"},
  "color":{"condition":[{"test":"abs(datum.c - datum.o) < 0.1","value":"#4a4a4a"},{"test":"datum.c > datum.o","value":"#22a243"}],"value":"#e5383b"}
 }},
{"data":{"name":"candles"},
 "mark":{"type":"bar","size":2.6},
 "encoding":{
  "x":{"field":"t","type":"temporal","title":null},
  "y":{"field":"o","type":"quantitative","title":null},
  "y2":{"field":"c"},
  "color":{"condition":[{"test":"abs(datum.c - datum.o) < 0.1","value":"#4a4a4a"},{"test":"datum.c > datum.o","value":"#22a243"}],"value":"#e5383b"}
 }},
{"data":{"name":"gap"},
 "mark":{"type":"line","strokeDash":[1,2],"strokeWidth":1,"color":"#9a9a9a"},
 "encoding":{"x":{"field":"t","type":"temporal","title":null},"y":{"field":"v","type":"quantitative","title":null}}},
{"data":{"name":"ma"},
 "mark":{"type":"line","strokeWidth":1.8,"interpolate":"monotone"},
 "encoding":{
  "x":{"field":"t","type":"temporal","title":null},
  "y":{"field":"v","type":"quantitative","title":null},
  "color":{"field":"s","type":"nominal","legend":null,
   "scale":{"domain":["MA 20","MA 50","MA 100","MA 200","Last"],"range":["#f5283c","#0b5fd3","#0e8a2a","#7a4fc8","#1b7ee8"]}}
 }},
{"data":{"name":"tags"},
 "transform":[{"filter":"datum.s !== 'Last'"}],
 "mark":{"type":"point","shape":"M-1,0L-0.8,-0.33L1,-0.33L1,0.33L-0.8,0.33Z","filled":true,"size":2916,"opacity":1,"strokeWidth":0},
 "encoding":{
  "x":{"datum":{"year":2024,"month":11,"date":27,"hours":8,"minutes":25,"seconds":30},"type":"temporal","title":null},
  "y":{"field":"v","type":"quantitative","title":null},
  "color":{"field":"s","type":"nominal","legend":null,
   "scale":{"domain":["MA 20","MA 50","MA 100","MA 200","Last"],"range":["#f5283c","#0b5fd3","#0e8a2a","#7a4fc8","#1b7ee8"]}}
 }},
{"data":{"name":"tags"},
 "transform":[{"filter":"datum.s !== 'Last'"}],
 "mark":{"type":"text","align":"center","baseline":"middle","dx":2,"dy":0.5,"fontSize":13.5,"fontWeight":"bold","font":"Liberation Sans Narrow, Roboto Condensed, Roboto","color":"#ffffff"},
 "encoding":{
  "x":{"datum":{"year":2024,"month":11,"date":27,"hours":8,"minutes":25,"seconds":30},"type":"temporal","title":null},
  "y":{"field":"v","type":"quantitative","title":null},
  "text":{"field":"label"}
 }},
{"data":{"name":"tags"},
 "transform":[{"filter":"datum.s === 'Last'"}],
 "mark":{"type":"point","shape":"M-1,0L-0.8,-0.33L1,-0.33L1,0.33L-0.8,0.33Z","filled":true,"size":2916,"opacity":1,"strokeWidth":0},
 "encoding":{
  "x":{"datum":{"year":2024,"month":11,"date":27,"hours":8,"minutes":25,"seconds":30},"type":"temporal","title":null},
  "y":{"field":"v","type":"quantitative","title":null},
  "color":{"field":"s","type":"nominal","legend":null,
   "scale":{"domain":["MA 20","MA 50","MA 100","MA 200","Last"],"range":["#f5283c","#0b5fd3","#0e8a2a","#7a4fc8","#1b7ee8"]}}
 }},
{"data":{"name":"tags"},
 "transform":[{"filter":"datum.s === 'Last'"}],
 "mark":{"type":"text","align":"center","baseline":"middle","dx":2,"dy":0.5,"fontSize":13.5,"fontWeight":"bold","font":"Liberation Sans Narrow, Roboto Condensed, Roboto","color":"#ffffff"},
 "encoding":{
  "x":{"datum":{"year":2024,"month":11,"date":27,"hours":8,"minutes":25,"seconds":30},"type":"temporal","title":null},
  "y":{"field":"v","type":"quantitative","title":null},
  "text":{"field":"label"}
 }},
{"data":{"values":[{}]},"mark":{"type":"text","text":"barchart","fontSize":27,"font":"Noto Sans","color":"#a9a9a9","baseline":"alphabetic"},"encoding":{"x":{"value":3},"y":{"value":543}}},
{"data":{"values":[{}]},"mark":{"type":"text","text":"11/27/2024 7:35 AM"},"encoding":{"x":{"value":5},"y":{"value":15}}},
{"data":{"values":[{}]},"mark":{"type":"text","text":"Gold (^XAUUSD) [FOREX]"},"encoding":{"x":{"value":123},"y":{"value":15}}},
{"data":{"values":[{}]},"mark":{"type":"text","text":"O"},"encoding":{"x":{"value":268},"y":{"value":15}}},
{"data":{"values":[{}]},"mark":{"type":"text","text":"2,650.59","color":"#1f78e0"},"encoding":{"x":{"value":277},"y":{"value":15}}},
{"data":{"values":[{}]},"mark":{"type":"text","text":"H"},"encoding":{"x":{"value":329},"y":{"value":15}}},
{"data":{"values":[{}]},"mark":{"type":"text","text":"2,650.59","color":"#1f78e0"},"encoding":{"x":{"value":339},"y":{"value":15}}},
{"data":{"values":[{}]},"mark":{"type":"text","text":"L"},"encoding":{"x":{"value":391},"y":{"value":15}}},
{"data":{"values":[{}]},"mark":{"type":"text","text":"2,650.59","color":"#1f78e0"},"encoding":{"x":{"value":400},"y":{"value":15}}},
{"data":{"values":[{}]},"mark":{"type":"text","text":"C"},"encoding":{"x":{"value":452},"y":{"value":15}}},
{"data":{"values":[{}]},"mark":{"type":"text","text":"2,650.59","color":"#1f78e0"},"encoding":{"x":{"value":462},"y":{"value":15}}},
{"data":{"values":[{}]},"mark":{"type":"text","text":"Δ1.18","color":"#1f78e0"},"encoding":{"x":{"value":512},"y":{"value":15}}},
{"data":{"values":[{}]},"mark":{"type":"text","text":"Moving Average (20, Close, 0) \u00a0(20, Close, 0)"},"encoding":{"x":{"value":549},"y":{"value":15}}},
{"data":{"values":[{}]},"mark":{"type":"text","text":"2,651.41","color":"#f0343f"},"encoding":{"x":{"value":797},"y":{"value":15}}},
{"data":{"values":[{}]},"mark":{"type":"text","text":"Moving Average (50, Close, 0) \u00a0(50, Close, 0)"},"encoding":{"x":{"value":5},"y":{"value":30.5}}},
{"data":{"values":[{}]},"mark":{"type":"text","text":"2,649.85","color":"#1f78e0"},"encoding":{"x":{"value":253},"y":{"value":30.5}}},
{"data":{"values":[{}]},"mark":{"type":"text","text":"Moving Average (100, Close, 0) \u00a0(100, Close, 0)"},"encoding":{"x":{"value":307},"y":{"value":30.5}}},
{"data":{"values":[{}]},"mark":{"type":"text","text":"2,647.95","color":"#17a03a"},"encoding":{"x":{"value":568},"y":{"value":30.5}}},
{"data":{"values":[{}]},"mark":{"type":"text","text":"Moving Average (200, Close, 0) \u00a0(200, Close, 0)"},"encoding":{"x":{"value":620},"y":{"value":30.5}}},
{"data":{"values":[{}]},"mark":{"type":"text","text":"2,640.98","color":"#8455d2"},"encoding":{"x":{"value":883},"y":{"value":30.5}}}
]
}
